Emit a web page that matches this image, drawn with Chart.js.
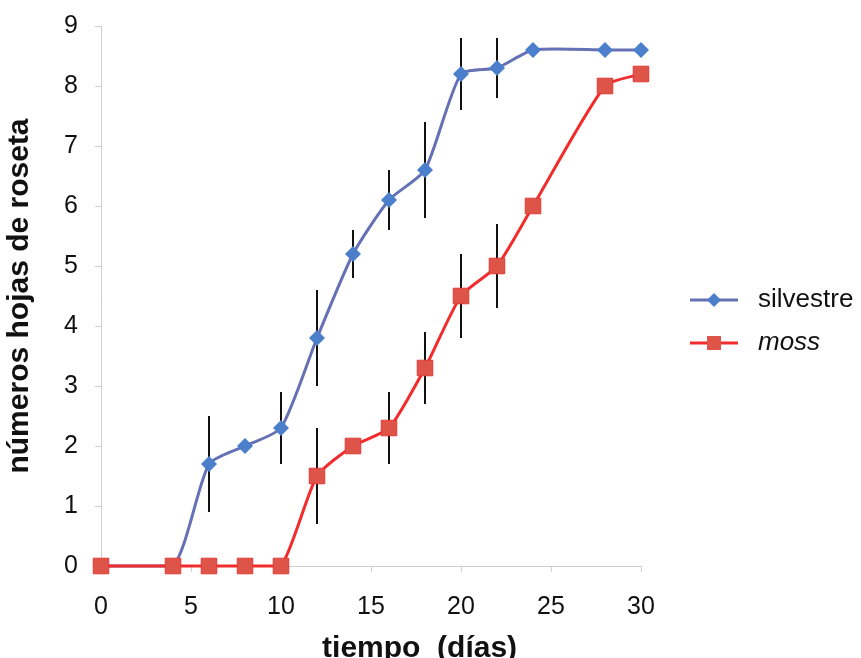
<!DOCTYPE html>
<html>
<head>
<meta charset="utf-8">
<script src="https://cdn.jsdelivr.net/npm/chart.js@4/dist/chart.umd.min.js"></script>
<style>
html,body{margin:0;padding:0;background:#fff;}
#wrap{width:861px;height:658px;position:relative;}
</style>
</head>
<body>
<div id="wrap"><canvas id="c" width="861" height="658"></canvas></div>
<script>
// ---- data ----
const days = [0, 4, 6, 8, 10, 12, 14, 16, 18, 20, 22, 24, 28, 30];
const silvestre = [0, 0, 1.7, 2.0, 2.3, 3.8, 5.2, 6.1, 6.6, 8.2, 8.3, 8.6, 8.6, 8.6];
const silvestreErr = [0, 0, 0.8, 0, 0.6, 0.8, 0.4, 0.5, 0.8, 0.6, 0.5, 0, 0, 0];
const moss = [0, 0, 0, 0, 0, 1.5, 2.0, 2.3, 3.3, 4.5, 5.0, 6.0, 8.0, 8.2];
const mossErr = [0, 0, 0, 0, 0, 0.8, 0, 0.6, 0.6, 0.7, 0.7, 0, 0, 0];
const seriesNames = ['silvestre', 'moss'];
const xTicks = [0, 5, 10, 15, 20, 25, 30];
const yTicks = [0, 1, 2, 3, 4, 5, 6, 7, 8, 9];
const xTitle = 'tiempo  (días)';
const yTitle = 'números hojas de roseta';

const FONT = "'Liberation Sans', Arial, sans-serif";
const blueLine = '#6570B5', blueMark = '#4C7FCB';
const redLine = '#F22C2C', redMark = '#DE5448', redBorder = '#E23A36';
const axisGray = '#CFCFCF';

const toPts = (ys) => days.map((d, i) => ({x: d, y: ys[i]}));

const errorBars = {
  id: 'errorBars',
  beforeDatasetsDraw(chart) {
    const ctx = chart.ctx, xs = chart.scales.x, ys = chart.scales.y;
    const sets = [[silvestre, silvestreErr], [moss, mossErr]];
    ctx.save();
    ctx.strokeStyle = '#111';
    ctx.lineWidth = 2;
    sets.forEach(([vals, errs]) => {
      days.forEach((d, i) => {
        if (!errs[i]) return;
        const px = xs.getPixelForValue(d);
        ctx.beginPath();
        ctx.moveTo(px, ys.getPixelForValue(vals[i] + errs[i]));
        ctx.lineTo(px, ys.getPixelForValue(vals[i] - errs[i]));
        ctx.stroke();
      });
    });
    ctx.restore();
  }
};

const extras = {
  id: 'extras',
  afterDraw(chart) {
    const ctx = chart.ctx, a = chart.chartArea;
    ctx.save();
    // x axis title
    ctx.fillStyle = '#111';
    ctx.font = 'bold 30px ' + FONT;
    ctx.textAlign = 'center';
    ctx.textBaseline = 'alphabetic';
    ctx.fillText(xTitle, a.left + (a.right - a.left) * 0.59, a.bottom + 91);
    // legend
    const lx = a.right + 49, lw = 48;
    const items = [
      {name: seriesNames[0], color: blueLine, mark: blueMark, style: 'diamond', italic: false, y: a.top + 274},
      {name: seriesNames[1], color: redLine, mark: redMark, style: 'square', italic: true, y: a.top + 317}
    ];
    items.forEach(it => {
      ctx.strokeStyle = it.color;
      ctx.lineWidth = 3;
      ctx.beginPath();
      ctx.moveTo(lx, it.y);
      ctx.lineTo(lx + lw, it.y);
      ctx.stroke();
      const cx = lx + lw / 2;
      ctx.fillStyle = it.mark;
      ctx.beginPath();
      if (it.style === 'diamond') {
        ctx.moveTo(cx, it.y - 7); ctx.lineTo(cx + 7, it.y); ctx.lineTo(cx, it.y + 7); ctx.lineTo(cx - 7, it.y);
        ctx.closePath();
        ctx.fill();
      } else {
        ctx.rect(cx - 7, it.y - 7, 14, 14);
        ctx.fill();
      }
      ctx.fillStyle = '#111';
      ctx.font = (it.italic ? 'italic ' : '') + '26px ' + FONT;
      ctx.textAlign = 'left';
      ctx.textBaseline = 'middle';
      ctx.fillText(it.name, lx + lw + 20, it.y);
    });
    ctx.restore();
  }
};

new Chart(document.getElementById('c'), {
  type: 'scatter',
  data: {
    datasets: [
      {
        label: seriesNames[0],
        data: toPts(silvestre),
        showLine: true,
        clip: false,
        borderColor: blueLine,
        borderWidth: 3,
        tension: 0.2,
        pointStyle: 'rectRot',
        pointRadius: 8,
        pointBackgroundColor: blueMark,
        pointBorderColor: blueMark,
        pointBorderWidth: 0,
        order: 2
      },
      {
        label: seriesNames[1],
        data: toPts(moss),
        showLine: true,
        clip: false,
        borderColor: redLine,
        borderWidth: 3,
        tension: 0.2,
        pointStyle: 'rect',
        pointRadius: 11,
        pointBackgroundColor: redMark,
        pointBorderColor: redBorder,
        pointBorderWidth: 1,
        order: 1
      }
    ]
  },
  options: {
    responsive: false,
    animation: false,
    events: [],
    layout: {padding: {left: 0, right: 220, top: 26, bottom: 0}},
    plugins: {legend: {display: false}, tooltip: {enabled: false}},
    scales: {
      x: {
        type: 'linear',
        min: 0, max: 30,
        afterBuildTicks: (s) => { s.ticks = xTicks.map(v => ({value: v})); },
        afterFit: (s) => { s.height = 92; s.paddingLeft = 0; s.paddingRight = 0; },
        grid: {display: true, drawOnChartArea: false, drawTicks: true, tickLength: 6, color: axisGray, lineWidth: 1},
        border: {display: true, color: axisGray, width: 1},
        ticks: {font: {family: FONT, size: 25}, color: '#111', padding: 20, maxRotation: 0}
      },
      y: {
        type: 'linear',
        min: 0, max: 9,
        afterBuildTicks: (s) => { s.ticks = yTicks.map(v => ({value: v})); },
        afterFit: (s) => { s.width = 101; s.paddingTop = 0; s.paddingBottom = 0; },
        grid: {display: true, drawOnChartArea: false, drawTicks: true, tickLength: 6, color: axisGray, lineWidth: 1},
        border: {display: true, color: axisGray, width: 1},
        ticks: {font: {family: FONT, size: 25}, color: '#111', padding: 17},
        title: {display: true, text: yTitle, font: {family: FONT, size: 30, weight: 'bold'}, color: '#111', padding: {top: 2, bottom: 0}}
      }
    }
  },
  plugins: [errorBars, extras]
});
</script>
</body>
</html>
